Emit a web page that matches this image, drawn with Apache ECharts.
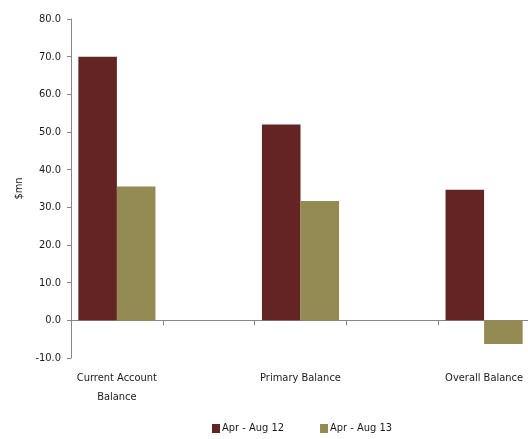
<!DOCTYPE html>
<html>
<head>
<meta charset="utf-8">
<script src="https://cdn.jsdelivr.net/npm/echarts@6/dist/echarts.min.js"></script>
<style>
  html, body { margin: 0; padding: 0; background: #ffffff; }
  #chart { width: 528px; height: 439px; }
</style>
</head>
<body>
<div id="chart"></div>
<script>
// Balances by category; blank categories act as spacers between groups
const categories = ['Current Account\nBalance', '', 'Primary Balance', '', 'Overall Balance'];
const seriesNames = ['Apr - Aug 12', 'Apr - Aug 13'];
const aprAug12 = [70.0, null, 52.0, null, 34.7];
const aprAug13 = [35.5, null, 31.7, null, -6.3];
const yMin = -10, yMax = 80, yStep = 10;

const FONT = '"DejaVu Sans Condensed", "Liberation Sans Narrow", "Liberation Sans", sans-serif';
const FS = 11;
const TEXT = '#1a1a1a';
const AXIS = '#878787';

const chart = echarts.init(document.getElementById('chart'), null, { renderer: 'canvas' });
chart.setOption({
  animation: false,
  textStyle: { fontFamily: FONT, color: TEXT },
  grid: {
    left: 71, top: 19, width: 459, height: 339,
    containLabel: false,
    outerBoundsMode: 'none'
  },
  legend: {
    data: seriesNames,
    left: 212,
    top: 423,
    padding: 0,
    icon: 'rect',
    itemWidth: 8,
    itemHeight: 9,
    itemGap: 36,
    textStyle: { fontFamily: FONT, fontSize: FS, color: TEXT, padding: [0, 0, 0, -3] }
  },
  xAxis: {
    type: 'category',
    data: categories,
    axisLine: { onZero: true, lineStyle: { color: AXIS, width: 1 } },
    axisTick: { show: true, interval: 0, length: 5, inside: false, lineStyle: { color: AXIS } },
    axisLabel: {
      interval: 0,
      margin: 11,
      fontFamily: FONT,
      fontSize: FS,
      lineHeight: 19,
      color: TEXT
    },
    splitLine: { show: false }
  },
  yAxis: {
    type: 'value',
    min: yMin,
    max: yMax,
    interval: yStep,
    name: '$mn',
    nameLocation: 'middle',
    nameRotate: 90,
    nameGap: 44,
    nameTextStyle: { fontFamily: FONT, fontSize: FS, color: TEXT },
    axisLine: { show: true, lineStyle: { color: AXIS, width: 1 } },
    axisTick: { show: true, length: 4, lineStyle: { color: AXIS } },
    axisLabel: {
      margin: 10,
      fontFamily: FONT,
      fontSize: FS,
      color: TEXT,
      formatter: v => v.toFixed(1)
    },
    splitLine: { show: false }
  },
  series: [
    {
      name: seriesNames[0],
      type: 'bar',
      data: aprAug12,
      barGap: '0%',
      barCategoryGap: '16%',
      itemStyle: { color: '#632523' }
    },
    {
      name: seriesNames[1],
      type: 'bar',
      data: aprAug13,
      barGap: '0%',
      barCategoryGap: '16%',
      itemStyle: { color: '#948a54' }
    }
  ]
});
</script>
</body>
</html>
